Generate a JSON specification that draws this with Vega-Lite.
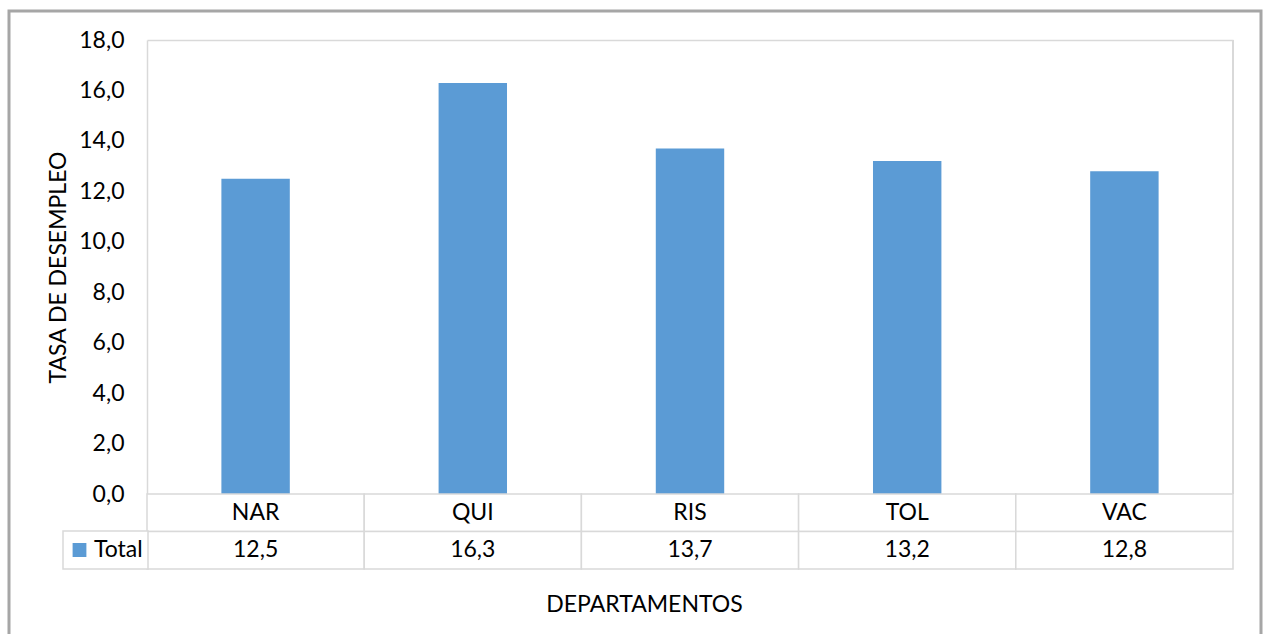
{
  "$schema": "https://vega.github.io/schema/vega-lite/v6.json",
  "width": 1252,
  "height": 640,
  "autosize": "none",
  "padding": {"left": 9, "top": 11, "right": 5, "bottom": 0},
  "background": "white",
  "config": {
    "locale": {"number": {"decimal": ",", "thousands": ".", "grouping": [3], "currency": ["", " €"]}},
    "view": {"stroke": "#a6a6a6", "strokeWidth": 3},
    "font": "Lato",
    "legend": {"strokeColor": "#d9d9d9", "strokeWidth": 1.5, "fillColor": "white", "padding": 5, "cornerRadius": 0}
  },
  "data": {
    "values": [
      {"dept": "NAR", "value": 12.5},
      {"dept": "QUI", "value": 16.3},
      {"dept": "RIS", "value": 13.7},
      {"dept": "TOL", "value": 13.2},
      {"dept": "VAC", "value": 12.8}
    ]
  },
  "resolve": {"scale": {"y": "independent"}},
  "layer": [
    {
      "layer": [
        {
          "mark": {"type": "bar", "width": {"band": 0.315}},
          "encoding": {
            "x": {
              "field": "dept",
              "type": "nominal",
              "scale": {"domain": ["NAR", "QUI", "RIS", "TOL", "VAC"], "range": [138, 1224], "paddingInner": 0, "paddingOuter": 0},
              "axis": {
                "orient": "bottom",
                "labels": false,
                "ticks": false,
                "domain": false,
                "grid": false,
                "title": "DEPARTAMENTOS",
                "titleFont": "Lato",
                "titleFontSize": 23,
                "titleFontWeight": "normal",
                "titleColor": "#000000",
                "titleX": 635,
                "titleY": -47,
                "titleAlign": "center",
                "titleBaseline": "middle"
              }
            },
            "y": {
              "field": "value",
              "type": "quantitative",
              "scale": {"domain": [0, 18], "range": [483, 29], "nice": false},
              "axis": {
                "offset": -138,
                "values": [0, 2, 4, 6, 8, 10, 12, 14, 16, 18],
                "format": ".1f",
                "labelFont": "Lato",
                "labelFontSize": 23,
                "labelColor": "#000000",
                "labelPadding": 23,
                "labelFlush": false,
                "labelOverlap": false,
                "ticks": false,
                "domainColor": "#d9d9d9",
                "domainWidth": 1.5,
                "grid": true,
                "gridColor": "#d9d9d9",
                "gridWidth": 1.5,
                "gridOpacity": {"condition": {"test": "datum.value === 18", "value": 1}, "value": 0},
                "title": "TASA DE DESEMPLEO",
                "titleFont": "Lato",
                "titleFontSize": 23,
                "titleFontWeight": "normal",
                "titleColor": "#000000",
                "titleX": -89,
                "titleBaseline": "middle",
                "titleAlign": "center"
              }
            },
            "color": {
              "datum": "Total",
              "type": "nominal",
              "scale": {"range": ["#5b9bd5"]},
              "legend": {
                "orient": "none",
                "legendX": 54,
                "legendY": 520,
                "title": null,
                "symbolType": "square",
                "symbolSize": 190,
                "symbolStrokeWidth": 0,
                "labelFont": "Lato",
                "labelFontSize": 23,
                "labelColor": "#000000",
                "labelOffset": 3,
                "clipHeight": 28
              }
            }
          }
        },
        {
          "mark": {"type": "rule", "color": "#d9d9d9", "strokeWidth": 1.5},
          "encoding": {
            "x": {"datum": "VAC", "type": "nominal", "bandPosition": 1},
            "y": {"datum": 0, "type": "quantitative"},
            "y2": {"datum": 18}
          }
        }
      ]
    },
    {
      "layer": [
        {
          "mark": {"type": "rect", "fill": "white", "stroke": "#d9d9d9", "strokeWidth": 1.5},
          "encoding": {
            "x": {"field": "dept", "type": "nominal"},
            "y": {"datum": "h", "type": "nominal", "scale": {"domain": ["h", "v"], "range": [483, 558], "paddingInner": 0, "paddingOuter": 0}, "axis": null}
          }
        },
        {
          "mark": {"type": "rect", "fill": "white", "stroke": "#d9d9d9", "strokeWidth": 1.5},
          "encoding": {
            "x": {"field": "dept", "type": "nominal"},
            "y": {"datum": "v", "type": "nominal"}
          }
        },
        {
          "mark": {"type": "text", "font": "Lato", "fontSize": 23, "color": "#000000", "baseline": "middle"},
          "encoding": {
            "x": {"field": "dept", "type": "nominal"},
            "y": {"datum": "h", "type": "nominal"},
            "text": {"field": "dept", "type": "nominal"}
          }
        },
        {
          "mark": {"type": "text", "font": "Lato", "fontSize": 23, "color": "#000000", "baseline": "middle"},
          "encoding": {
            "x": {"field": "dept", "type": "nominal"},
            "y": {"datum": "v", "type": "nominal"},
            "text": {"field": "value", "type": "quantitative", "format": ".1f"}
          }
        }
      ]
    }
  ]
}
